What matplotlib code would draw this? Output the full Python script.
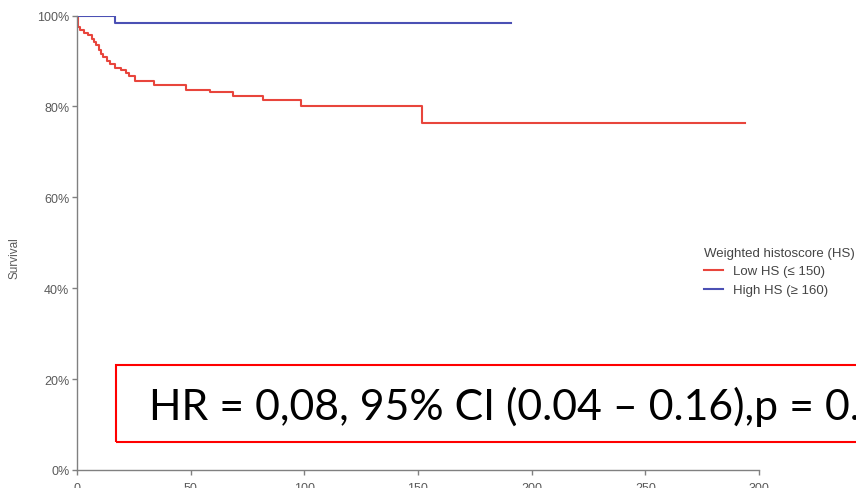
import numpy as np
import matplotlib
matplotlib.use("Agg")
import matplotlib.pyplot as plt
from matplotlib.patches import Rectangle
from matplotlib.ticker import PercentFormatter

# Kaplan-Meier step points (time, survival after the step)
low_t = [0, 0.5, 1.5, 3, 5, 6.5, 7.5, 8.5, 9.5, 10.5, 11.5, 13, 14.5, 16.5,
         19.5, 21.5, 23, 25.3, 33.7, 48.1, 58.3, 68.6, 81.8, 98.7, 151.8, 293.8]
low_s = [1.0, 0.974, 0.968, 0.962, 0.956, 0.949, 0.942, 0.934, 0.925, 0.916,
         0.908, 0.900, 0.893, 0.885, 0.880, 0.873, 0.866, 0.8565, 0.848, 0.837,
         0.831, 0.822, 0.813, 0.800, 0.763, 0.763]

high_t = [0, 16.8, 190.8]
high_s = [1.0, 0.9835, 0.9835]

labels = ["Low HS (\u2264 150)", "High HS (\u2265 160)"]
legend_title = "Weighted histoscore (HS)"
xticks = [0, 50, 100, 150, 200, 250, 300]
yticks = [0, 0.2, 0.4, 0.6, 0.8, 1.0]
hr_text = "HR = 0,08, 95% CI (0.04 \u2013 0.16),p = 0."

W, H = 856, 489
fig = plt.figure(figsize=(W / 100, H / 100), dpi=100)
ax = fig.add_axes([77 / W, 1 - 471 / H, (759 - 77) / W, (471 - 16.5) / H])

red = "#e8453c"
blue = "#4b50b4"
ax.step(low_t, low_s, where="post", color=red, lw=1.5, label=labels[0])
ax.step(high_t, high_s, where="post", color=blue, lw=1.5, label=labels[1])

ax.set_xlim(0, 300)
ax.set_ylim(0, 1)
ax.set_xticks(xticks)
ax.set_yticks(yticks)
ax.yaxis.set_major_formatter(PercentFormatter(1.0, decimals=0))
for s in ["top", "right"]:
    ax.spines[s].set_visible(False)
for s in ["left", "bottom"]:
    ax.spines[s].set_color("#808080")
    ax.spines[s].set_linewidth(1.0)
ax.tick_params(colors="#808080", length=3.5, width=1.0, labelcolor="#5a5a5a",
               labelsize=9, pad=2)
ax.tick_params(axis="x", pad=5)
for lab in ax.get_xticklabels() + ax.get_yticklabels():
    lab.set_family("Liberation Sans")

fig.text(15 / W, 1 - 258 / H, "Survival", rotation=90, ha="center", va="center",
         fontsize=8.5, color="#5a5a5a", family="Liberation Sans")

leg = ax.legend(title=legend_title, loc="upper left",
                bbox_to_anchor=(697 / W, 1 - 241 / H), bbox_transform=fig.transFigure,
                frameon=False, handlelength=1.5, handletextpad=0.7, labelspacing=0.5,
                borderpad=0, alignment="left",
                prop={"family": "Liberation Sans", "size": 9.5},
                title_fontproperties={"family": "Liberation Sans", "size": 9.5})
leg.get_title().set_color("#444444")
for t in leg.get_texts():
    t.set_color("#444444")

# boxed hazard ratio annotation
fig.add_artist(Rectangle((115.5 / W, 1 - 442.5 / H), (W + 20 - 115.5) / W, (442.5 - 366) / H,
                         transform=fig.transFigure, fill=False, edgecolor="#ff0000",
                         lw=1.5, clip_on=False))
fig.text(149 / W, 1 - 420 / H, hr_text, ha="left", va="baseline",
         fontsize=30.8, family="Lato", color="black")

fig.savefig("out.png", dpi=100)
